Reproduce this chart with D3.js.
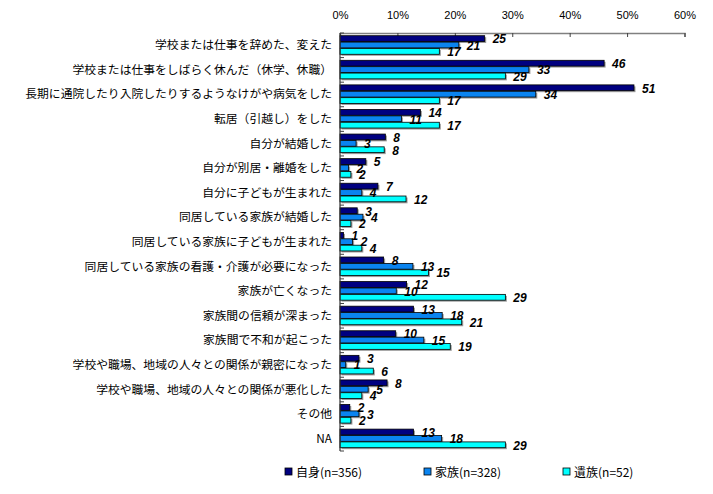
<!DOCTYPE html>
<html><head><meta charset="utf-8">
<script src="https://cdn.jsdelivr.net/npm/d3@7"></script>
<style>
body{margin:0;background:#fff;}
svg{display:block;}
</style></head>
<body>
<svg id="chart" width="713" height="494"></svg>
<script>
const categories = [
 "学校または仕事を辞めた、変えた",
 "学校または仕事をしばらく休んだ（休学、休職）",
 "長期に通院したり入院したりするようなけがや病気をした",
 "転居（引越し）をした",
 "自分が結婚した",
 "自分が別居・離婚をした",
 "自分に子どもが生まれた",
 "同居している家族が結婚した",
 "同居している家族に子どもが生まれた",
 "同居している家族の看護・介護が必要になった",
 "家族が亡くなった",
 "家族間の信頼が深まった",
 "家族間で不和が起こった",
 "学校や職場、地域の人々との関係が親密になった",
 "学校や職場、地域の人々との関係が悪化した",
 "その他",
 "NA"
];
const seriesNames = ["自身(n=356)", "家族(n=328)", "遺族(n=52)"];
const selfValues   = [25.2, 46.0, 51.2, 14.0, 7.9, 4.5, 6.6, 3.0, 0.6, 7.6, 11.6, 12.8, 9.7, 3.3, 8.2, 1.7, 12.8];
const familyValues = [20.7, 32.9, 34.1, 10.7, 2.8, 1.5, 3.8, 4.0, 2.2, 12.7, 9.8, 17.8, 14.6, 1.0, 4.9, 3.3, 17.7];
const bereavedValues=[17.3, 28.8, 17.3, 17.3, 7.7, 1.9, 11.5, 1.9, 3.8, 15.4, 28.8, 21.2, 19.2, 5.8, 3.8, 1.9, 28.8];
const tickValues = [0, 10, 20, 30, 40, 50, 60];
const colors = ["#000080", "#0a84f0", "#00ffff"];

const seriesValues = [selfValues, familyValues, bereavedValues];
const svg = d3.select("#chart");
const plotLeft = 340, plotRight = 684.5, plotTop = 33, plotBottom = 451;

const x = d3.scaleLinear().domain([0, 60]).range([plotLeft, plotRight]);
const y0 = d3.scaleBand().domain(categories).range([plotTop, plotBottom]).paddingInner(0.22).paddingOuter(0.11);
const y1 = d3.scaleBand().domain(d3.range(3)).range([0, y0.bandwidth()]);

// top axis
const xAxis = d3.axisTop(x).tickValues(tickValues).tickFormat(d => d + "%").tickSizeInner(-4).tickSizeOuter(-4).tickPadding(14);
const gx = svg.append("g").attr("transform", `translate(0,${plotTop})`).call(xAxis);
gx.select(".domain").attr("stroke", "#808080").attr("stroke-width", 1.5);
gx.selectAll(".tick line").attr("stroke", "#404040");
gx.selectAll(".tick text").attr("font-family", "Liberation Sans, Arial, sans-serif").attr("font-size", "11px").attr("fill", "#000");

// category groups
const groups = svg.append("g").selectAll("g").data(categories).join("g")
  .attr("transform", d => `translate(0,${y0(d)})`);

groups.each(function(cat, ci) {
  const g = d3.select(this);
  seriesValues.forEach((vals, si) => {
    g.append("rect")
      .attr("x", x(0) + 1.5).attr("y", y1(si) + 1.5)
      .attr("width", Math.max(0, x(vals[ci]) - x(0)))
      .attr("height", y1.bandwidth() - 0.6)
      .attr("fill", "#9a9a9a");
  });
  seriesValues.forEach((vals, si) => {
    g.append("rect")
      .attr("x", x(0)).attr("y", y1(si))
      .attr("width", Math.max(0, x(vals[ci]) - x(0)))
      .attr("height", y1.bandwidth() - 0.6)
      .attr("fill", colors[si]).attr("stroke", "#000").attr("stroke-width", 0.8);
  });
  seriesValues.forEach((vals, si) => {
    g.append("text")
      .attr("x", x(vals[ci]) + 8).attr("y", y1(si) + y1.bandwidth() / 2 + 4.5)
      .attr("font-family", "Liberation Sans, Arial, sans-serif")
      .attr("font-size", "12px").attr("font-weight", "bold").attr("font-style", "italic")
      .attr("fill", "#000")
      .text(Math.round(vals[ci]));
  });
});

// left axis
const yAxisLine = svg.append("g");
yAxisLine.append("line").attr("x1", plotLeft).attr("x2", plotLeft).attr("y1", plotTop).attr("y2", plotBottom).attr("stroke", "#303030").attr("stroke-width", 1.2);
const step = y0.step();
yAxisLine.selectAll("line.t").data(d3.range(categories.length + 1)).join("line").attr("class", "t")
  .attr("x1", plotLeft).attr("x2", plotLeft + 4)
  .attr("y1", i => plotTop + i * step).attr("y2", i => plotTop + i * step)
  .attr("stroke", "#404040");

// category labels
svg.append("g").selectAll("text").data(categories).join("text")
  .attr("x", 332).attr("y", d => y0(d) + y0.bandwidth() / 2 + 4)
  .attr("text-anchor", "end")
  .attr("font-family", "Noto Sans CJK JP, sans-serif").attr("font-size", "11.8px").attr("fill", "#000")
  .text(d => d);

// legend
const legendX = [285, 424, 563];
const lg = svg.append("g").selectAll("g").data(seriesNames).join("g")
  .attr("transform", (d, i) => `translate(${legendX[i]},468)`);
lg.append("rect").attr("x", 0).attr("y", 0).attr("width", 7).attr("height", 7)
  .attr("fill", (d, i) => colors[i]).attr("stroke", "#000").attr("stroke-width", 0.8);
lg.append("text").attr("x", 11).attr("y", 8.5)
  .attr("font-family", "Noto Sans CJK JP, sans-serif").attr("font-size", "12px").attr("fill", "#000")
  .text(d => d);
</script>
</body></html>
